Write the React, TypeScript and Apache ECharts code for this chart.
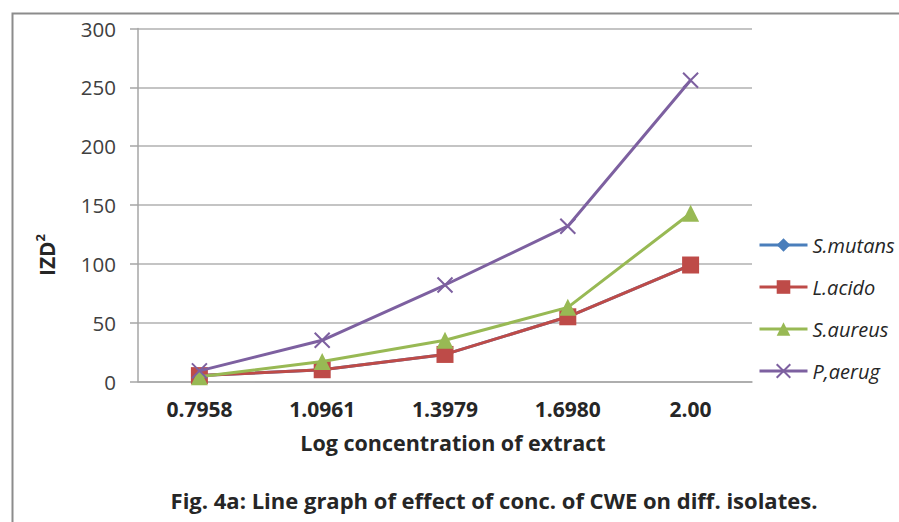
import React, { useEffect, useRef } from "react";
import * as echarts from "echarts";

const categories = ["0.7958", "1.0961", "1.3979", "1.6980", "2.00"];
const sMutans = [5, 10, 23, 55, 99];
const lAcido = [5, 10, 23, 55, 99];
const sAureus = [4, 17, 35, 63, 143];
const pAerug = [9, 35, 82, 132, 256];
const yTicks = { min: 0, max: 300, interval: 50 };

const FONT = "'Open Sans', sans-serif";

export default function App() {
  const ref = useRef<HTMLDivElement>(null);
  useEffect(() => {
    document.body.style.margin = "0";
    const chart = echarts.init(ref.current!, null, { renderer: "svg" });
    const cross = "path://M0,0L10,10M10,0L0,10";
    chart.setOption({
      animation: false,
      backgroundColor: "#ffffff",
      textStyle: { fontFamily: FONT },
      grid: { left: 138, right: 147, top: 28.5, bottom: 140.5, containLabel: false },
      legend: {
        orient: "vertical",
        left: 758,
        top: 235,
        padding: 0,
        itemGap: 22,
        itemWidth: 48,
        itemHeight: 17,
        lineStyle: { width: 3 },
        textStyle: { fontFamily: FONT, fontStyle: "italic", fontSize: 20, lineHeight: 20, color: "#262626" },
        data: ["S.mutans", "L.acido", "S.aureus", "P,aerug"],
      },
      xAxis: {
        type: "category",
        data: categories,
        boundaryGap: true,
        axisLine: { show: true, lineStyle: { color: "#a6a6a6", width: 1.5 } },
        axisTick: { show: false },
        axisLabel: { margin: 17, fontSize: 21, fontWeight: "bold", color: "#262626", fontFamily: FONT },
        name: "Log concentration of extract",
        nameLocation: "middle",
        nameGap: 50,
        nameTextStyle: { fontSize: 21.5, fontWeight: "bold", color: "#262626", fontFamily: FONT, padding: [0, 0, 0, 16] },
      },
      yAxis: {
        type: "value",
        min: yTicks.min,
        max: yTicks.max,
        interval: yTicks.interval,
        axisLine: { show: true, lineStyle: { color: "#a6a6a6", width: 1.5 } },
        axisTick: { show: true, length: 8, lineStyle: { color: "#a6a6a6", width: 1.5 } },
        splitLine: { show: true, lineStyle: { color: "#b0b0b0", width: 1.5 } },
        axisLabel: { margin: 22, fontSize: 20.5, color: "#404040", fontFamily: FONT },
      },
      series: [
        {
          name: "S.mutans",
          type: "line",
          data: sMutans,
          symbol: "diamond",
          symbolSize: 14,
          color: "#4A7EBB",
          lineStyle: { width: 3, color: "#4A7EBB" },
          itemStyle: { color: "#4A7EBB" },
          z: 1,
        },
        {
          name: "L.acido",
          type: "line",
          data: lAcido,
          symbol: "rect",
          symbolSize: 17,
          color: "#BE4B48",
          lineStyle: { width: 3, color: "#BE4B48" },
          itemStyle: { color: "#BE4B48" },
          z: 2,
        },
        {
          name: "S.aureus",
          type: "line",
          data: sAureus,
          symbol: "triangle",
          symbolSize: 17,
          color: "#98B954",
          lineStyle: { width: 3, color: "#98B954" },
          itemStyle: { color: "#98B954" },
          z: 3,
        },
        {
          name: "P,aerug",
          type: "line",
          data: pAerug,
          symbol: cross,
          symbolSize: 15,
          color: "#7D60A0",
          lineStyle: { width: 3, color: "#7D60A0" },
          itemStyle: { color: "#7D60A0", borderColor: "#7D60A0", borderWidth: 2 },
          z: 4,
        },
      ],
      graphic: [
        {
          type: "rect",
          left: 10,
          top: 11,
          shape: { width: 1000, height: 1000 },
          style: { fill: "none", stroke: "#8c8c8c", lineWidth: 2 },
          silent: true,
          z: -10,
        },
        {
          type: "text",
          x: 45,
          y: 255,
          rotation: Math.PI / 2,
          style: {
            text: "{m|IZD}{s|2}",
            rich: {
              m: { font: `bold 21px ${FONT}`, fill: "#262626", lineHeight: 24, verticalAlign: "bottom" },
              s: { font: `bold 13px ${FONT}`, fill: "#262626", lineHeight: 24, verticalAlign: "top", padding: [0, 0, 10, 0] },
            },
            align: "center",
            verticalAlign: "middle",
          },
        },
        {
          type: "text",
          x: 494,
          y: 500,
          style: {
            text: "Fig. 4a: Line graph of effect of conc. of CWE on diff. isolates.",
            font: `bold 22px ${FONT}`,
            fill: "#262626",
            align: "center",
            verticalAlign: "middle",
          },
        },
      ],
    });
    return () => chart.dispose();
  }, []);
  return <div ref={ref} style={{ width: 899, height: 522 }} />;
}
